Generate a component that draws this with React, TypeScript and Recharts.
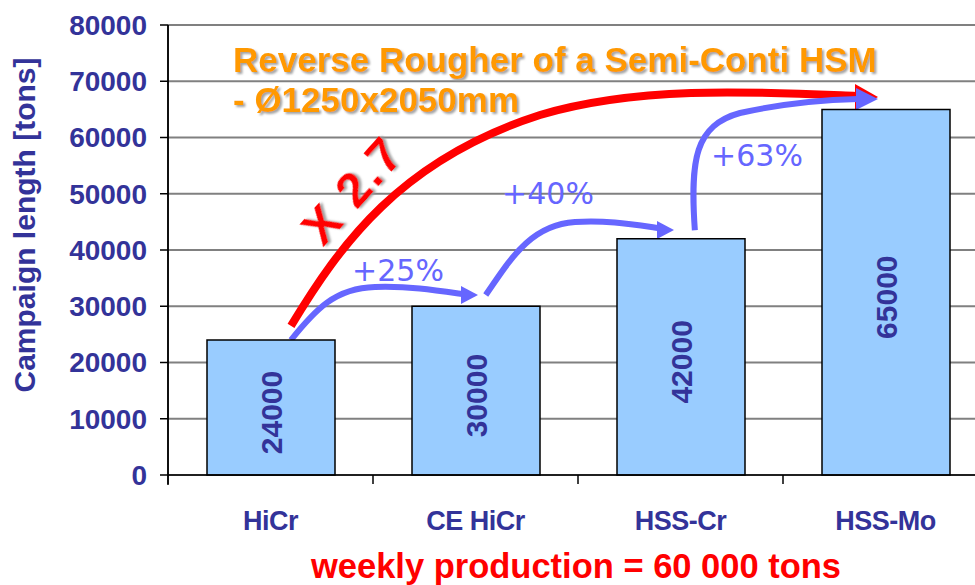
import React from 'react';
import { BarChart, Bar, XAxis, YAxis, CartesianGrid, LabelList, Customized } from 'recharts';

const categories = ['HiCr', 'CE HiCr', 'HSS-Cr', 'HSS-Mo'];
const campaignTons = [24000, 30000, 42000, 65000];
const yTicks = [0, 10000, 20000, 30000, 40000, 50000, 60000, 70000, 80000];
const growthLabels = ['+25%', '+40%', '+63%'];

const chartData = categories.map((name, i) => ({ name, value: campaignTons[i] }));

const CHART_W = 988;
const CHART_H = 585;
const PLOT_LEFT = 168;
const PLOT_TOP = 25;
const PLOT_BOTTOM = 475;
const BAND = (CHART_W - PLOT_LEFT) / categories.length;
const NAVY = '#333399';
const ARROW_BLUE = '#6666FF';
const FONT = '"Liberation Sans", Arial, sans-serif';

// same mapping as the axes, used only to place the annotation arrows
const px = (i: number) => PLOT_LEFT + (i + 0.5) * BAND;
const py = (v: number) => PLOT_BOTTOM - (v / 80000) * (PLOT_BOTTOM - PLOT_TOP);

const XTick = ({ x, payload }: any) => (
  <g>
    <line x1={x - BAND / 2} x2={x - BAND / 2} y1={PLOT_BOTTOM} y2={PLOT_BOTTOM + 9} stroke="#000" strokeWidth={1.5} />
    <text x={x} y={530} textAnchor="middle" fill={NAVY} fontSize={27} fontWeight="bold" fontFamily={FONT} letterSpacing={-0.5}>
      {payload.value}
    </text>
  </g>
);

const BarValue = (props: any) => {
  const { x, y, width, height, value } = props;
  const cx = x + width / 2;
  const cy = y + height / 2 + 5;
  return (
    <text x={cx} y={cy} transform={`rotate(-90 ${cx} ${cy})`} textAnchor="middle" dominantBaseline="central"
      fill={NAVY} fontSize={30} fontWeight="bold" fontFamily={FONT}>
      {value}
    </text>
  );
};

const head = (tipX: number, tipY: number, len: number, half: number, color: string) => (
  <polygon points={`${tipX},${tipY} ${tipX - len},${tipY - half} ${tipX - len},${tipY + half}`} fill={color} />
);

const Annotations = () => {
  // red x2.7 arrow: HiCr top -> HSS-Mo top
  const r0 = [px(0.1), py(26500)];
  const redPath = `M ${r0[0]} ${r0[1]} C 340 245, 400 160, 540 115 C 640 85, 760 92, 856 96`;
  const b1 = `M ${px(0.1)} ${py(24000)} C 315 310, 335 288, 375 287 C 410 286, 435 290, 462 294`;
  const b2 = `M ${px(1.05)} ${py(32000)} C 510 260, 530 225, 575 222 C 605 220, 630 224, 658 228`;
  const b3 = `M ${px(2.07)} ${py(43500)} C 690 160, 695 125, 740 113 C 780 104, 820 100, 858 99`;
  return (
    <g>
      <defs>
        <filter id="softShadow" x="-5%" y="-20%" width="110%" height="140%">
          <feDropShadow dx="2" dy="2" stdDeviation="0.8" floodColor="#999999" floodOpacity="0.9" />
        </filter>
      </defs>
      <line x1={PLOT_LEFT} x2={PLOT_LEFT} y1={PLOT_TOP} y2={PLOT_BOTTOM + 10} stroke="#000" strokeWidth={1.5} />

      <g fontFamily={FONT} fontWeight="bold" fontSize={35} fill="#FF9900" filter="url(#softShadow)">
        <text x={233} y={72}>Reverse Rougher of a Semi-Conti HSM</text>
        <text x={233} y={112}>- Ø1250x2050mm</text>
      </g>

      <path d={redPath} fill="none" stroke="#FF0000" strokeWidth={8} />
      {head(878, 97, 23, 13, '#FF0000')}

      <text x={352} y={190} transform="rotate(-48 352 190)" textAnchor="middle" dominantBaseline="central"
        fill="#FF0000" fontFamily={FONT} fontWeight="bold" fontSize={49} letterSpacing={2} filter="url(#softShadow)">
        X 2.7
      </text>

      <path d={b1} fill="none" stroke={ARROW_BLUE} strokeWidth={6} />
      {head(478, 295, 17, 9, ARROW_BLUE)}
      <path d={b2} fill="none" stroke={ARROW_BLUE} strokeWidth={6} />
      {head(674, 230, 17, 9, ARROW_BLUE)}
      <path d={b3} fill="none" stroke={ARROW_BLUE} strokeWidth={6} />
      {head(878, 99, 22, 11, ARROW_BLUE)}

      <g fontFamily='"DejaVu Sans", Verdana, sans-serif' fontSize={30} fill={ARROW_BLUE} textAnchor="middle" dominantBaseline="central">
        <text x={398} y={270}>{growthLabels[0]}</text>
        <text x={548} y={193}>{growthLabels[1]}</text>
        <text x={757} y={155}>{growthLabels[2]}</text>
      </g>

      <text x={35} y={225} transform="rotate(-90 35 225)" textAnchor="middle" fill={NAVY} fontSize={30} fontWeight="bold" fontFamily={FONT}>
        Campaign length [tons]
      </text>

      <text x={576} y={578} textAnchor="middle" fill="#FF0000" fontSize={34.5} fontWeight="bold" fontFamily={FONT}>
        weekly production = 60 000 tons
      </text>
    </g>
  );
};

export default function App() {
  return (
    <div style={{ position: 'fixed', left: 0, top: 0, width: 975, height: 585, overflow: 'hidden', background: '#fff' }}>
      <BarChart width={CHART_W} height={CHART_H} data={chartData} margin={{ top: PLOT_TOP, right: 0, left: 0, bottom: 0 }}>
        <CartesianGrid horizontal vertical={false} stroke="#808080" strokeWidth={2} />
        <XAxis dataKey="name" height={CHART_H - PLOT_BOTTOM} interval={0} tickLine={false}
          axisLine={{ stroke: '#000', strokeWidth: 1.5 }} tick={<XTick />} />
        <YAxis width={PLOT_LEFT} domain={[0, 80000]} ticks={yTicks} tickSize={8} tickMargin={13}
          axisLine={{ stroke: '#000', strokeWidth: 1.5 }} tickLine={{ stroke: '#000', strokeWidth: 1.5 }}
          tick={{ fill: NAVY, fontSize: 28, fontWeight: 'bold', fontFamily: FONT }} />
        <Bar dataKey="value" fill="#99CCFF" stroke="#000" strokeWidth={1.5} barSize={128} isAnimationActive={false}>
          <LabelList dataKey="value" content={BarValue} />
        </Bar>
        <Customized component={<Annotations />} />
      </BarChart>
    </div>
  );
}
